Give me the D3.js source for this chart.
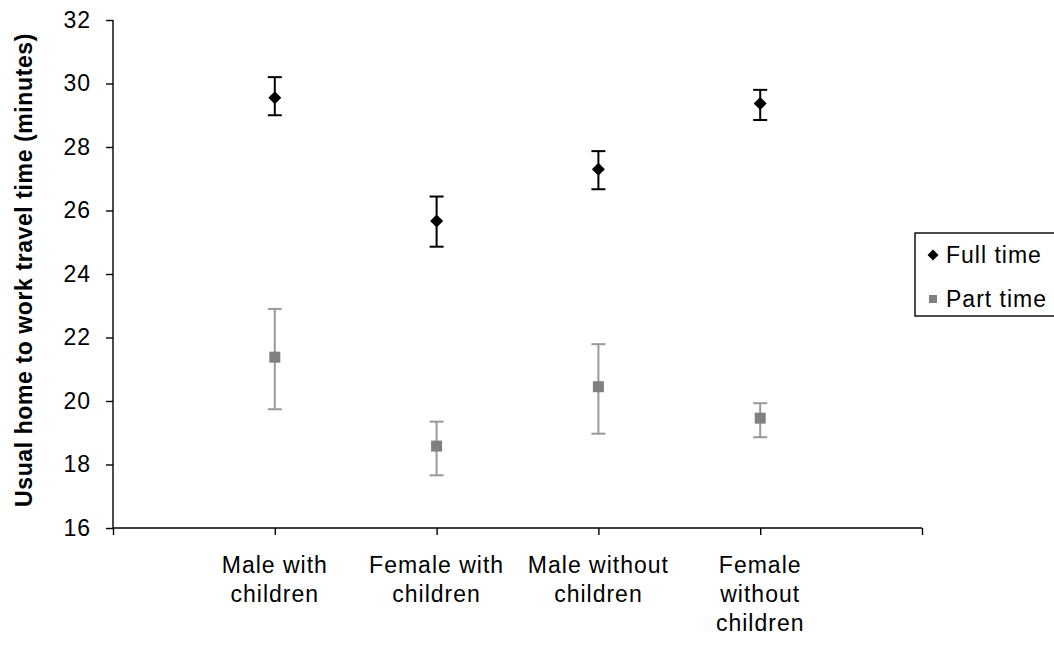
<!DOCTYPE html>
<html>
<head>
<meta charset="utf-8">
<script src="https://cdn.jsdelivr.net/npm/d3@7"></script>
<style>
  html, body { margin: 0; padding: 0; background: #fff; }
  svg text { font-family: "Liberation Sans", Arial, sans-serif; font-size: 23px; letter-spacing: 1px; fill: #000; }
</style>
</head>
<body>
<svg id="chart" width="1054" height="652"></svg>
<script>
// ---- data ----
const categoryLines = [["Male with", "children"], ["Female with", "children"], ["Male without", "children"], ["Female", "without", "children"]];
const categoryX = [1, 2, 3, 4];
const fullTime = [29.55, 25.67, 27.30, 29.37];
const fullUpper = [30.20, 26.44, 27.87, 29.80];
const fullLower = [29.00, 24.86, 26.67, 28.85];
const partTime = [21.38, 18.58, 20.45, 19.46];
const partUpper = [22.90, 19.35, 21.79, 19.93];
const partLower = [19.74, 17.66, 18.97, 18.86];
const yTicks = [16, 18, 20, 22, 24, 26, 28, 30, 32];
const xTicks = [0, 1, 2, 3, 4, 5];
const seriesNames = ["Full time", "Part time"];
const yTitle = "Usual home to work travel time (minutes)";

const svg = d3.select("#chart");
const x = d3.scaleLinear().domain([0, 5]).range([113, 922]);
const y = d3.scaleLinear().domain([16, 32]).range([528, 20]);

// axes
const yAxis = svg.append("g").attr("transform", `translate(${x(0)},0)`)
  .call(d3.axisLeft(y).tickValues(yTicks).tickSize(7).tickPadding(15).tickFormat(d3.format("d")));
const xAxis = svg.append("g").attr("transform", `translate(0,${y(16)})`)
  .call(d3.axisBottom(x).tickValues(xTicks).tickSize(7).tickFormat(""));
[yAxis, xAxis].forEach(a => {
  a.select(".domain").attr("stroke", "#000").attr("stroke-width", 1.4);
  a.selectAll(".tick line").attr("stroke", "#000").attr("stroke-width", 1.4);
  a.selectAll("text").attr("font-size", null).attr("font-family", null);
});
yAxis.select(".domain").attr("d", `M0,${y(32)}V${y(16)}`);
xAxis.select(".domain").attr("d", `M${x(0)},0H${x(5)}`);

// category labels
const cat = svg.append("g");
categoryLines.forEach((lines, i) => {
  const t = cat.append("text").attr("text-anchor", "middle")
    .attr("x", x(categoryX[i])).attr("y", 573);
  lines.forEach((ln, j) => {
    t.append("tspan").attr("x", x(categoryX[i])).attr("dy", j === 0 ? 0 : 29).text(ln);
  });
});

// y title
svg.append("text").attr("text-anchor", "middle").attr("font-weight", "bold")
  .style("letter-spacing", "0.6px")
  .attr("transform", `translate(32,${(y(16) + y(32)) / 2 - 4}) rotate(-90)`)
  .text(yTitle);

// error bars
function errorBars(vals, up, lo, color) {
  const g = svg.append("g").attr("stroke", color).attr("stroke-width", 2);
  vals.forEach((v, i) => {
    const cx = x(categoryX[i]);
    g.append("line").attr("x1", cx).attr("x2", cx).attr("y1", y(up[i])).attr("y2", y(lo[i]));
    g.append("line").attr("x1", cx - 7).attr("x2", cx + 7).attr("y1", y(up[i])).attr("y2", y(up[i]));
    g.append("line").attr("x1", cx - 7).attr("x2", cx + 7).attr("y1", y(lo[i])).attr("y2", y(lo[i]));
  });
}
errorBars(fullTime, fullUpper, fullLower, "#000");
errorBars(partTime, partUpper, partLower, "#999");

const diamond = (cx, cy, r) => `M${cx},${cy - r}L${cx + r},${cy}L${cx},${cy + r}L${cx - r},${cy}Z`;
svg.append("g").selectAll("path").data(fullTime).join("path")
  .attr("d", (d, i) => diamond(x(categoryX[i]), y(d), 6.5)).attr("fill", "#000");
svg.append("g").selectAll("rect").data(partTime).join("rect")
  .attr("x", (d, i) => x(categoryX[i]) - 5.5).attr("y", d => y(d) - 5.5)
  .attr("width", 11).attr("height", 11).attr("fill", "#808080");

// legend
const lg = svg.append("g");
lg.append("rect").attr("x", 915).attr("y", 233).attr("width", 150).attr("height", 83)
  .attr("fill", "#fff").attr("stroke", "#000").attr("stroke-width", 1.4);
lg.append("path").attr("d", diamond(933, 255, 5.5)).attr("fill", "#000");
lg.append("rect").attr("x", 929).attr("y", 295).attr("width", 8).attr("height", 8).attr("fill", "#808080");
lg.append("text").attr("x", 946).attr("y", 263).text(seriesNames[0]);
lg.append("text").attr("x", 946).attr("y", 307).text(seriesNames[1]);
</script>
</body>
</html>
